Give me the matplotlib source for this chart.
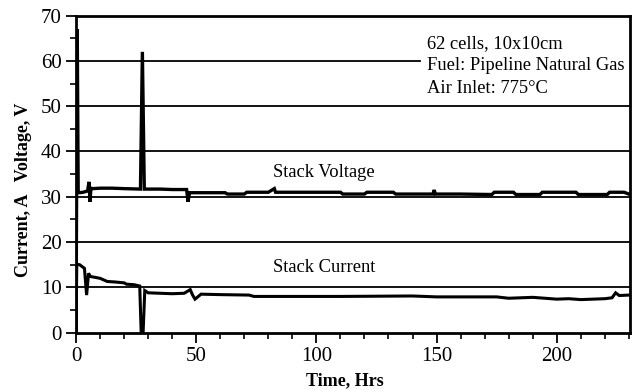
import matplotlib
matplotlib.use("Agg")
import matplotlib.pyplot as plt
from matplotlib.ticker import MultipleLocator

plt.rcParams["font.family"] = ["Liberation Serif", "DejaVu Serif"]

# Stack voltage trace (hours, volts)
volt_t = [0, 0.5, 0.9, 1.3, 3.0, 4.8, 5.4, 5.8, 6.2, 7.0, 10, 15, 20, 26.8,
          27.6, 28.4, 30, 35, 40, 46.0, 46.6, 47.2, 48, 55, 62, 63, 70, 71,
          80, 82.5, 83, 90, 100, 110, 111, 120, 121, 132, 133, 140, 148.5,
          149, 149.5, 160, 173, 174, 182, 183, 193, 194, 208, 209, 221, 222,
          228, 230]
volt_v = [0, 67, 31, 30.9, 31.0, 31.3, 33.3, 28.9, 31.9, 31.8, 31.9, 31.9,
          31.8, 31.7, 62, 31.7, 31.7, 31.7, 31.6, 31.6, 28.9, 30.9, 30.9, 30.9,
          30.9, 30.6, 30.6, 31.0, 31.0, 31.8, 31.0, 31.0, 31.0, 31.0, 30.6,
          30.6, 31.0, 31.0, 30.6, 30.6, 30.6, 31.5, 30.6, 30.6, 30.5, 31.0,
          31.0, 30.5, 30.5, 31.0, 31.0, 30.5, 30.5, 31.0, 31.0, 30.6]

# Stack current trace (hours, amps)
curr_t = [0, 0.3, 1.5, 2.5, 3.5, 4.4, 5.2, 6.0, 8, 10, 13, 16, 20, 21, 24,
          26.5, 27.1, 27.9, 28.6, 30, 35, 40, 45, 47.5, 48.5, 49.5, 52, 60,
          72, 74, 90, 110, 140, 150, 175, 180, 190, 200, 205, 210, 220,
          223, 224.5, 226, 230]
curr_i = [0, 15.1, 15.0, 14.6, 14.2, 8.3, 13.1, 12.4, 12.2, 12.0, 11.3,
          11.2, 11.0, 10.7, 10.6, 10.3, 0, 0, 9.3, 8.8, 8.7, 8.6, 8.7, 9.5,
          8.3, 7.4, 8.5, 8.4, 8.3, 8.0, 8.0, 8.0, 8.1, 7.9, 7.9, 7.6, 7.8,
          7.4, 7.5, 7.3, 7.5, 7.7, 8.8, 8.2, 8.3]

gridlines = [10, 20, 30, 40, 50]
info_lines = ["62 cells, 10x10cm", "Fuel: Pipeline Natural Gas", "Air Inlet: 775\u00b0C"]

fig = plt.figure(figsize=(6.39, 3.90), dpi=100)
ax = fig.add_axes([0.119, 0.147, 0.867, 0.813])

for g in gridlines:
    ax.axhline(g, color="black", lw=1.3, zorder=1)
# the 60 line stops where the note text starts
ax.axhline(60, xmax=0.621, color="black", lw=1.3, zorder=1)

ax.plot(volt_t, volt_v, color="black", lw=2.4, zorder=3, solid_joinstyle="miter")
ax.plot(curr_t, curr_i, color="black", lw=2.2, zorder=3, solid_joinstyle="miter")

ax.set_xlim(0, 230.5)
ax.set_ylim(0, 70)
ax.xaxis.set_major_locator(MultipleLocator(50))
ax.xaxis.set_minor_locator(MultipleLocator(10))
ax.yaxis.set_major_locator(MultipleLocator(10))
ax.yaxis.set_minor_locator(MultipleLocator(5))
ax.tick_params(which="major", direction="out", length=7, width=1.3, labelsize=15, colors="black")
ax.tick_params(which="minor", direction="out", length=4, width=1.2)
for s in ax.spines.values():
    s.set_linewidth(2.0)

ax.set_xlabel("Time, Hrs", fontsize=13, fontweight="bold", labelpad=2)
ax.xaxis.set_label_coords(0.485, -0.125)
ax.set_ylabel("Current, A   Voltage, V", fontsize=13, fontweight="bold")
ax.yaxis.set_label_coords(-0.08, 0.45)

ax.text(146, 65.8, "\n".join(info_lines), fontsize=13.3,
        va="top", ha="left", linespacing=1.45, zorder=4)

ax.text(82, 35.3, "Stack Voltage", fontsize=13.3, va="center", ha="left", zorder=4)
ax.text(82, 14.3, "Stack Current", fontsize=13.3, va="center", ha="left", zorder=4)

fig.savefig("out.png", dpi=100)
